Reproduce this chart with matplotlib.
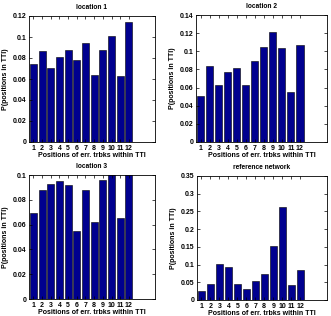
import matplotlib
matplotlib.use("Agg")
import matplotlib.pyplot as plt
from matplotlib.ticker import FuncFormatter

# ===================== ##
# Data                   ##
# ===================== ##
positions = list(range(1, 13))
loc1 = [0.074, 0.087, 0.070, 0.081, 0.088, 0.078, 0.094, 0.064, 0.088, 0.101, 0.063, 0.114]
loc2 = [0.051, 0.084, 0.063, 0.077, 0.082, 0.063, 0.089, 0.105, 0.121, 0.104, 0.055, 0.107]
loc3 = [0.069, 0.088, 0.093, 0.095, 0.092, 0.055, 0.088, 0.062, 0.096, 0.105, 0.065, 0.102]
ref_net = [0.026, 0.045, 0.101, 0.093, 0.045, 0.031, 0.053, 0.074, 0.152, 0.263, 0.042, 0.085]

titles = ["location 1", "location 2", "location 3", "reference network"]
series = [loc1, loc2, loc3, ref_net]
ylims = [0.12, 0.14, 0.10, 0.35]
ysteps = [0.02, 0.02, 0.02, 0.05]

# axes boxes in pixels: left, top, right, bottom
boxes = [(29, 16, 155, 142), (196, 15, 327, 142), (29, 175, 155, 299), (197, 176, 327, 300)]

W, H = 331, 316
fig = plt.figure(figsize=(W / 100, H / 100), dpi=100)
plt.rcParams['font.family'] = ['Liberation Sans', 'DejaVu Sans']

fmt = FuncFormatter(lambda v, p: "%g" % round(v, 4))

for box, title, vals, ymax, step in zip(boxes, titles, series, ylims, ysteps):
    l, t, r, b = box
    ax = fig.add_axes([l / W, 1 - b / H, (r - l) / W, (b - t) / H])
    ax.bar(positions, vals, width=0.8, color="#00008f", edgecolor="black", linewidth=0.4)
    ax.set_xlim(0.5, 15)
    ax.set_ylim(0, ymax)
    ax.set_xticks(positions)
    n = int(round(ymax / step))
    ax.set_yticks([i * step for i in range(n + 1)])
    ax.yaxis.set_major_formatter(fmt)
    ax.tick_params(direction="in", length=2, width=0.5, labelsize=5, pad=2,
                   top=True, right=True)
    for lab in ax.get_xticklabels() + ax.get_yticklabels():
        lab.set_fontweight("bold")
    for sp in ax.spines.values():
        sp.set_linewidth(0.6)
    ax.set_title(title, fontsize=4.8, fontweight="bold", pad=5)
    ax.set_xlabel("Positions of err. trbks within TTI", fontsize=5, fontweight="bold", labelpad=0)
    ax.set_ylabel("P(positions in TTI)", fontsize=5, fontweight="bold", labelpad=2.5)

fig.savefig("out.png", dpi=100)
